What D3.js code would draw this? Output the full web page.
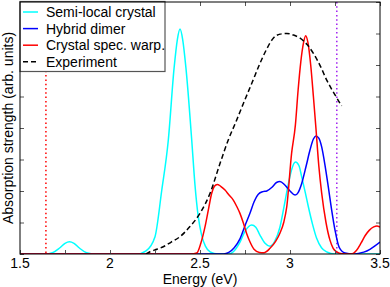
<!DOCTYPE html>
<html>
<head>
<meta charset="utf-8">
<script src="https://cdn.jsdelivr.net/npm/d3@7"></script>
<style>
body { margin: 0; background: #fff; }
svg { font-family: "Liberation Sans", Arial, sans-serif; }
</style>
</head>
<body>
<div id="chart"></div>
<script>
// energy (eV), absorption (arb. units)
var semiLocal = [[1.5,0],[1.64,0],[1.68,0.04],[1.72,0.19],[1.75,0.34],[1.775,0.39],[1.80,0.34],[1.83,0.19],[1.87,0.04],[1.92,0],
    [2.15,0],[2.2,0.1],[2.25,0.55],[2.287,2.0],[2.324,3.62],[2.356,5.9],[2.374,6.8],[2.389,7.14],[2.404,6.8],[2.422,5.9],[2.454,3.62],[2.472,2.2],
    [2.49,1.2],[2.509,0.6],[2.53,0.25],[2.556,0.07],[2.6,0],[2.66,0],[2.685,0.07],[2.72,0.35],[2.75,0.72],[2.787,0.92],
    [2.81,0.85],[2.833,0.6],[2.86,0.35],[2.889,0.25],[2.915,0.4],[2.944,0.85],[2.97,1.6],[2.99,2.2],[3.01,2.7],[3.03,2.92],
    [3.05,2.8],[3.065,2.45],[3.085,1.95],[3.102,1.5],[3.125,0.95],[3.148,0.5],[3.175,0.2],[3.204,0.07],[3.25,0],[3.5,0]];

var hybridDimer = [[1.5,0],[2.63,0],[2.66,0.05],[2.69,0.2],[2.722,0.48],[2.75,0.9],[2.778,1.3],[2.8,1.65],[2.824,1.9],
    [2.85,1.98],[2.871,2.0],[2.9,2.12],[2.925,2.27],[2.944,2.3],[2.97,2.2],[3.0,2.0],[3.028,1.87],[3.045,1.95],[3.065,2.24],
    [3.09,2.8],[3.111,3.3],[3.13,3.65],[3.144,3.75],[3.16,3.68],[3.176,3.4],[3.195,2.8],[3.213,2.12],[3.23,1.45],[3.25,0.76],
    [3.274,0.2],[3.306,0.03],[3.35,0],[3.38,0.02],[3.41,0.06],[3.444,0.15],[3.47,0.25],[3.5,0.38]];

var specWarp = [[1.5,0],[2.45,0],[2.482,0.03],[2.505,0.35],[2.528,0.87],[2.548,1.45],[2.565,1.93],[2.58,2.15],[2.596,2.21],
    [2.615,2.15],[2.639,2.03],[2.66,1.88],[2.685,1.71],[2.705,1.5],[2.722,1.29],[2.74,1.0],[2.759,0.65],[2.778,0.38],[2.8,0.15],
    [2.83,0.05],[2.855,0.04],[2.889,0.18],[2.92,0.4],[2.944,0.66],[2.965,1.0],[2.982,1.5],[3.009,3.2],[3.03,4.1],[3.045,5.2],
    [3.06,6.1],[3.075,6.7],[3.087,6.93],[3.1,6.7],[3.115,6.0],[3.13,5.0],[3.144,4.0],[3.16,2.8],[3.176,1.93],[3.2,1.0],
    [3.222,0.44],[3.24,0.18],[3.259,0.07],[3.29,0.01],[3.34,0],[3.37,0.12],[3.395,0.35],[3.417,0.58],[3.44,0.75],[3.465,0.86],
    [3.483,0.89],[3.5,0.85]];

var experiment = [[2.2,0],[2.222,0.07],[2.26,0.15],[2.296,0.23],[2.34,0.38],[2.389,0.55],[2.444,0.87],[2.5,1.29],[2.556,1.93],
    [2.611,2.87],[2.657,3.62],[2.7,4.2],[2.741,4.78],[2.79,5.45],[2.833,6.05],[2.87,6.5],[2.907,6.85],[2.945,6.98],[2.982,7.0],
    [3.02,6.95],[3.056,6.85],[3.095,6.65],[3.13,6.37],[3.17,5.95],[3.204,5.52],[3.245,5.1],[3.287,4.70]];

var markerLines = [{e: 1.644, color: '#ff0000'}, {e: 3.26, color: '#a020f0'}];

var xTickLabels = [1.5, 2, 2.5, 3, 3.5];
var xTicks = [1.5, 1.75, 2, 2.25, 2.5, 2.75, 3, 3.25, 3.5];
var yTicks = [0, 1, 2, 3, 4, 5, 6, 7, 8];

var series = [
    {name: 'Semi-local crystal', data: semiLocal, color: '#00ffff', dash: null},
    {name: 'Hybrid dimer', data: hybridDimer, color: '#0000ff', dash: null},
    {name: 'Crystal spec. warp.', data: specWarp, color: '#ff0000', dash: null},
    {name: 'Experiment', data: experiment, color: '#000000', dash: '5,3'}
];

var W = 390, H = 287;
// plot box (window.top is reserved, so p- prefix)
var pLeft = 20, pRight = 380, pTop = 2, pBottom = 254;

var x = d3.scaleLinear().domain([1.5, 3.5]).range([pLeft, pRight]);
var y = d3.scaleLinear().domain([0, 8]).range([pBottom, pTop]);

var svg = d3.select('#chart').append('svg')
    .attr('width', W)
    .attr('height', H);

svg.append('defs').append('clipPath').attr('id', 'clip')
    .append('rect')
    .attr('x', pLeft).attr('y', pTop)
    .attr('width', pRight - pLeft).attr('height', pBottom - pTop);

// dotted reference lines
svg.selectAll('line.marker')
    .data(markerLines)
    .enter()
    .append('line')
    .attr('class', 'marker')
    .attr('x1', function(d) {return x(d.e);})
    .attr('x2', function(d) {return x(d.e);})
    .attr('y1', pTop)
    .attr('y2', pBottom)
    .style('stroke', function(d) {return d.color;})
    .style('stroke-width', 1.5)
    .style('stroke-dasharray', '1.5,2.8');

var line = d3.line()
    .x(function(d) {return x(d[0]);})
    .y(function(d) {return y(d[1]);})
    .curve(d3.curveMonotoneX);

svg.append('g')
    .attr('clip-path', 'url(#clip)')
    .selectAll('path')
    .data(series)
    .enter()
    .append('path')
    .attr('d', function(d) {return line(d.data);})
    .style('fill', 'none')
    .style('stroke', function(d) {return d.color;})
    .style('stroke-width', 1.5)
    .style('stroke-dasharray', function(d) {return d.dash;});

// axes, ticks inside the frame
var tickLen = 4;
function noDomain(g) {g.select('.domain').remove();}
svg.append('g')
    .attr('transform', 'translate(0,' + pBottom + ')')
    .call(d3.axisBottom(x).tickValues(xTicks).tickSizeInner(-tickLen).tickSizeOuter(0).tickFormat(''))
    .call(noDomain);
svg.append('g')
    .attr('transform', 'translate(0,' + pTop + ')')
    .call(d3.axisTop(x).tickValues(xTicks).tickSizeInner(-tickLen).tickSizeOuter(0).tickFormat(''))
    .call(noDomain);
svg.append('g')
    .attr('transform', 'translate(' + pLeft + ',0)')
    .call(d3.axisLeft(y).tickValues(yTicks).tickSizeInner(-tickLen).tickSizeOuter(0).tickFormat(''))
    .call(noDomain);
svg.append('g')
    .attr('transform', 'translate(' + pRight + ',0)')
    .call(d3.axisRight(y).tickValues(yTicks).tickSizeInner(-tickLen).tickSizeOuter(0).tickFormat(''))
    .call(noDomain);
svg.selectAll('.tick line').style('stroke', '#555');

svg.selectAll('text.xlab')
    .data(xTickLabels)
    .enter()
    .append('text')
    .attr('class', 'xlab')
    .attr('x', function(d) {return x(d);})
    .attr('y', pBottom + 14)
    .attr('text-anchor', 'middle')
    .style('font-size', '14px')
    .text(function(d) {return d;});

svg.append('text')
    .attr('x', (pLeft + pRight) / 2)
    .attr('y', 284)
    .attr('text-anchor', 'middle')
    .style('font-size', '14px')
    .text('Energy (eV)');

svg.append('text')
    .attr('transform', 'translate(13,' + (pTop + pBottom) / 2 + ') rotate(-90)')
    .attr('text-anchor', 'middle')
    .style('font-size', '14px')
    .text('Absorption strength (arb. units)');

// legend
var leg = svg.append('g');
leg.append('rect')
    .attr('x', pLeft).attr('y', 1.5)
    .attr('width', 145).attr('height', 70)
    .style('fill', '#fff')
    .style('stroke', '#555')
    .style('stroke-width', 1.2);

var rows = leg.selectAll('g.row')
    .data(series)
    .enter()
    .append('g')
    .attr('transform', function(d, i) {return 'translate(0,' + (12 + i * 16.6) + ')';});
rows.append('line')
    .attr('x1', 23).attr('x2', 38)
    .style('stroke', function(d) {return d.color;})
    .style('stroke-width', 1.5)
    .style('stroke-dasharray', function(d) {return d.dash ? '5,3' : null;});
rows.append('text')
    .attr('x', 46)
    .attr('dy', '0.35em')
    .style('font-size', '14px')
    .text(function(d) {return d.name;});

// frame
svg.append('rect')
    .attr('x', pLeft).attr('y', pTop)
    .attr('width', pRight - pLeft).attr('height', pBottom - pTop)
    .style('fill', 'none')
    .style('stroke', '#000')
    .style('stroke-width', 1);
</script>
</body>
</html>
